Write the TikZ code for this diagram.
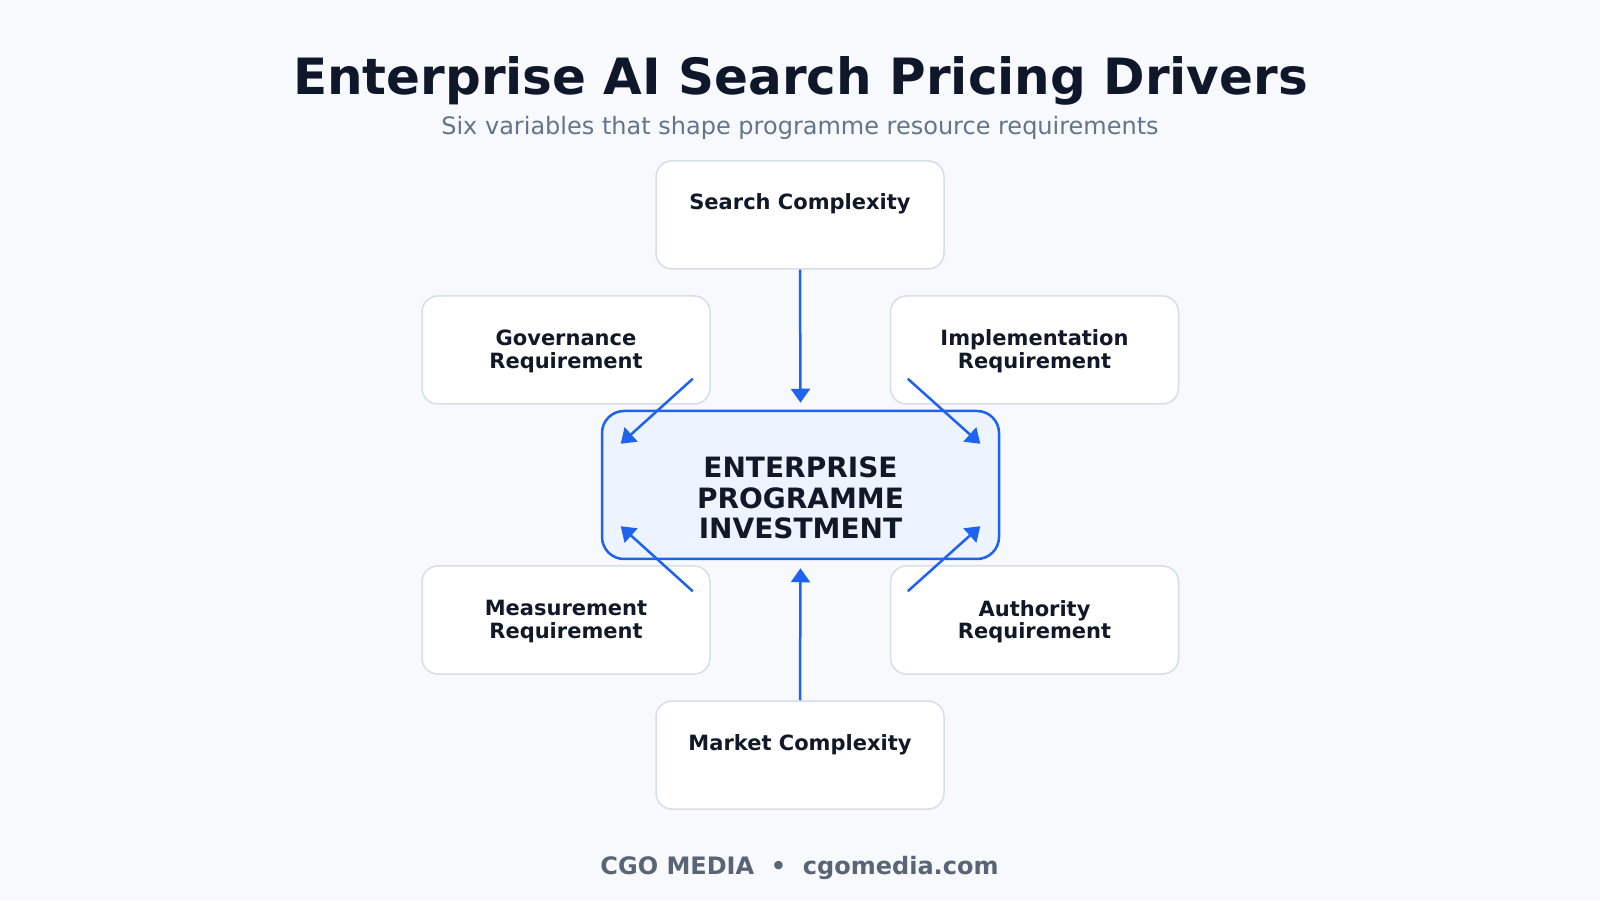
\documentclass[tikz,border=0pt]{standalone}
\usepackage{fontspec}
\setmainfont{DejaVu Sans}
\usetikzlibrary{arrows.meta,calc}
\definecolor{bgc}{HTML}{F7F9FC}
\definecolor{titlec}{HTML}{0F172A}
\definecolor{subc}{HTML}{64748B}
\definecolor{footc}{HTML}{596474}
\definecolor{boxline}{HTML}{D6DEE9}
\definecolor{accent}{HTML}{1D63ED}
\definecolor{ctrfill}{HTML}{EEF4FF}
\definecolor{labc}{HTML}{111827}
\tikzset{
  driver/.style={draw=boxline, line width=1.5pt, fill=white, rounded corners=16pt,
    minimum width=288pt, minimum height=108pt, inner sep=0pt},
  hub/.style={draw=accent, line width=2.5pt, fill=ctrfill, rounded corners=22pt,
    minimum width=397pt, minimum height=148pt, inner sep=0pt},
  lab/.style={text=labc, font=\bfseries\fontsize{21}{22.5}\selectfont, align=center, inner sep=0pt},
  hublab/.style={text=labc, font=\bfseries\fontsize{28}{30.5}\selectfont, align=center, inner sep=0pt},
  feed/.style={draw=accent, line width=2.5pt, -{Triangle[width=19pt,length=14pt]}},
}
\begin{document}
\begin{tikzpicture}[x=1pt,y=1pt]
\fill[bgc] (0,0) rectangle (1600,900);
\useasboundingbox (0,0) rectangle (1600,900);

\node[anchor=base, text=titlec, font=\bfseries\fontsize{50}{58}\selectfont, inner sep=0pt] (title) at (800.5,805) {Enterprise AI Search Pricing Drivers};
\node[anchor=base, text=subc, font=\fontsize{24}{28}\selectfont, inner sep=0pt] (subtitle) at (800,765.5) {Six variables that shape programme resource requirements};

\node[driver] (search) at (800,685) {};
\node[driver] (gov) at (566,550) {};
\node[driver] (impl) at (1034.5,550) {};
\node[hub] (ctr) at (800.5,415) {};
\node[driver] (meas) at (566,280) {};
\node[driver] (auth) at (1034.5,280) {};
\node[driver] (market) at (800,145) {};

\node[lab, anchor=base] (searchl) at ($(search.center)+(0,5)$) {Search Complexity};
\node[lab, anchor=base] (marketl) at ($(market.center)+(0,5)$) {Market Complexity};
\node[lab] (govl) at ($(gov.center)+(0,-1.5)$) {Governance\\Requirement};
\node[lab] (impll) at ($(impl.center)+(0,-1)$) {Implementation\\Requirement};
\node[lab] (measl) at ($(meas.center)+(0,-1.5)$) {Measurement\\Requirement};
\node[lab] (authl) at ($(auth.center)+(0,-1.5)$) {Authority\\Requirement};
\node[hublab] (ctrl) at ($(ctr.center)+(0,-13)$) {ENTERPRISE\\PROGRAMME\\INVESTMENT};

\coordinate (govs) at ($(gov.south east)+(-18,26)$);
\coordinate (impls) at ($(impl.south west)+(18,26)$);
\coordinate (meass) at ($(meas.north east)+(-18,-26)$);
\coordinate (auths) at ($(auth.north west)+(18,-26)$);
\coordinate (govt) at ($(ctr.north west)+(20,-34)$);
\coordinate (implt) at ($(ctr.north east)+(-20,-34)$);
\coordinate (meast) at ($(ctr.south west)+(20,34)$);
\coordinate (autht) at ($(ctr.south east)+(-20,34)$);
\coordinate (topt) at ($(ctr.north)+(0,7)$);
\coordinate (bott) at ($(ctr.south)+(0,-8)$);

\draw[feed] (search.south) -- (topt);
\draw[feed] (market.north) -- (bott);
\draw[feed] (govs) -- (govt);
\draw[feed] (impls) -- (implt);
\draw[feed] (meass) -- (meast);
\draw[feed] (auths) -- (autht);

\node[anchor=base, text=footc, font=\bfseries\fontsize{24}{28}\selectfont, inner sep=0pt] (footer) at (799.5,25.5) {CGO MEDIA\ \ •\ \ cgomedia.com};
\end{tikzpicture}
\end{document}
